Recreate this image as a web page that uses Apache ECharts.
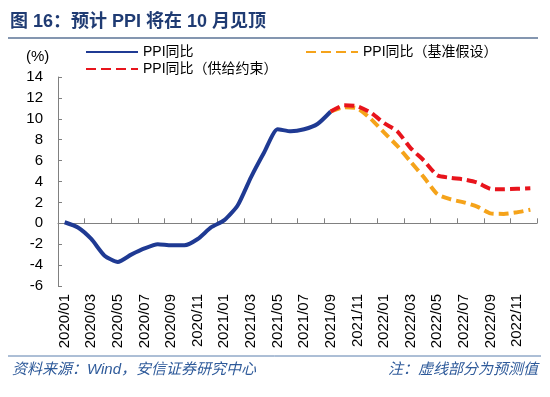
<!DOCTYPE html>
<html>
<head>
<meta charset="utf-8">
<script src="https://cdn.jsdelivr.net/npm/echarts@6/dist/echarts.min.js"></script>
<style>
  html, body { margin: 0; padding: 0; background: #fff; }
  #chart { width: 550px; height: 397px; }
</style>
</head>
<body>
<div id="chart"></div>
<script>
const months = [
  "2020/01", "2020/02", "2020/03", "2020/04", "2020/05", "2020/06", "2020/07", "2020/08", "2020/09", "2020/10", "2020/11", "2020/12",
  "2021/01", "2021/02", "2021/03", "2021/04", "2021/05", "2021/06", "2021/07", "2021/08", "2021/09", "2021/10", "2021/11", "2021/12",
  "2022/01", "2022/02", "2022/03", "2022/04", "2022/05", "2022/06", "2022/07", "2022/08", "2022/09", "2022/10", "2022/11", "2022/12"
]

// actual PPI yoy, 2020/01 - 2021/09
const ppiActual = [
  0.1, -0.4, -1.5, -3.1, -3.7, -3.0, -2.4, -2.0, -2.1, -2.1, -1.5, -0.4,
  0.3, 1.7, 4.4, 6.8, 9.0, 8.8, 9.0, 9.5, 10.7
]

// forecasts, 2021/09 - 2022/12
const ppiBase = [10.7, 11.1, 11.0, 10.0, 8.7, 7.4, 5.9, 4.4, 2.8, 2.3, 2.0, 1.6, 0.95, 0.9, 1.05, 1.3]
const ppiSupply = [10.7, 11.3, 11.2, 10.6, 9.6, 8.8, 7.2, 6.0, 4.6, 4.35, 4.2, 3.9, 3.3, 3.25, 3.3, 3.35]

const yTicks = { min: -6, max: 14, interval: 2 }

const FONT = "'Liberation Sans', 'Noto Sans CJK SC', sans-serif"
const forecastStart = ppiActual.length - 1

function padTail(values) {
  return months.map((m, i) => (i < values.length ? values[i] : null))
}

function padHead(values) {
  return months.map((m, i) => (i >= forecastStart ? values[i - forecastStart] : null))
}

const chart = echarts.init(document.getElementById("chart"), null, { renderer: "canvas" })

const legendBase = {
  itemWidth: 52,
  itemHeight: 14,
  itemStyle: { opacity: 0 },
  textStyle: { color: "#000", fontSize: 14, fontFamily: FONT }
}

chart.setOption({
  animation: false,
  backgroundColor: "#fff",
  grid: { left: 58, right: 13, top: 77, bottom: 111, containLabel: false },
  legend: [
    { ...legendBase, left: 80, top: 40, data: ["PPI同比"] },
    { ...legendBase, left: 300, top: 40, data: ["PPI同比（基准假设）"] },
    { ...legendBase, left: 80, top: 57, data: ["PPI同比（供给约束）"] }
  ],
  xAxis: [
    {
      type: "category",
      data: months,
      position: "bottom",
      boundaryGap: true,
      axisLine: { onZero: true, lineStyle: { color: "#808080", width: 1 } },
      axisTick: { show: true, inside: true, interval: 1, length: 5, lineStyle: { color: "#808080" } },
      axisLabel: { show: false },
      splitLine: { show: false }
    },
    {
      type: "category",
      data: months,
      position: "bottom",
      boundaryGap: true,
      axisLine: { show: false, onZero: false },
      axisTick: { show: false },
      axisLabel: { interval: 1, rotate: 90, margin: 8, color: "#000", fontSize: 15, fontFamily: FONT },
      splitLine: { show: false }
    }
  ],
  yAxis: {
    type: "value",
    min: yTicks.min,
    max: yTicks.max,
    interval: yTicks.interval,
    axisLine: { show: true, lineStyle: { color: "#808080", width: 1 } },
    axisTick: { show: true, inside: true, length: 4, lineStyle: { color: "#808080" } },
    axisLabel: { margin: 15, color: "#000", fontSize: 15, fontFamily: FONT },
    splitLine: { show: false }
  },
  graphic: [
    {
      type: "text", left: 10, top: 13,
      style: { text: "图 16：预计 PPI 将在 10 月见顶", fill: "#1f3b73", font: "bold 18px " + FONT }
    },
    {
      type: "line", shape: { x1: 8, y1: 38, x2: 538, y2: 38 },
      style: { stroke: "#8496b0", lineWidth: 2 }
    },
    {
      type: "text", left: 26, top: 49,
      style: { text: "(%)", fill: "#000", font: "15px " + FONT }
    },
    {
      type: "line", shape: { x1: 8, y1: 356, x2: 541, y2: 356 },
      style: { stroke: "#5b7fad", lineWidth: 1 }
    },
    {
      type: "text", left: 12, top: 362,
      style: { text: "资料来源：Wind，安信证券研究中心", fill: "#2e5a9a", font: "italic 15px " + FONT }
    },
    {
      type: "text", right: 12, top: 362,
      style: { text: "注：虚线部分为预测值", fill: "#2e5a9a", font: "italic 15px " + FONT, align: "right" }
    }
  ],
  series: [
    {
      name: "PPI同比",
      type: "line",
      data: padTail(ppiActual),
      symbol: "none",
      smooth: 0.2,
      z: 3,
      lineStyle: { color: "#1f3a93", width: 4 },
      itemStyle: { color: "#1f3a93" }
    },
    {
      name: "PPI同比（基准假设）",
      type: "line",
      data: padHead(ppiBase),
      symbol: "none",
      smooth: 0.2,
      z: 4,
      lineStyle: { color: "#f5a31a", width: 4, type: [10, 5] },
      itemStyle: { color: "#f5a31a" }
    },
    {
      name: "PPI同比（供给约束）",
      type: "line",
      data: padHead(ppiSupply),
      symbol: "none",
      smooth: 0.2,
      z: 5,
      lineStyle: { color: "#e8141c", width: 4, type: [10, 5] },
      itemStyle: { color: "#e8141c" }
    }
  ]
})
</script>
</body>
</html>
